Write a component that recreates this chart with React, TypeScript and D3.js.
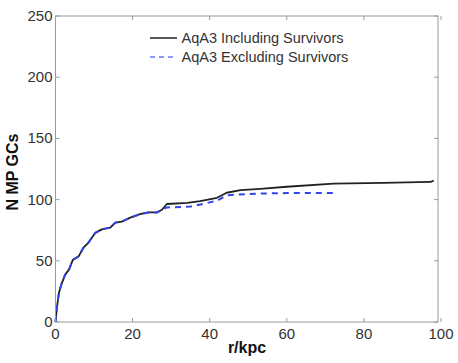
import React from 'react';
import * as d3 from 'd3';

// cumulative counts
const rIncl = [0, 0.4, 0.9, 1.5, 2.5, 3.5, 4.5, 6.0, 7.2, 8.5, 10.3, 12.0, 14.2, 15.5, 17.2, 19.4, 21.9, 24.1, 26.3, 27.6, 28.9, 34.2, 37.5, 41.9, 44.4, 48.0, 53.1, 60, 72.1, 85, 97.3, 98.1];
const nIncl = [0, 12.6, 23.9, 30.5, 38.7, 42.8, 50.8, 53.6, 60.5, 64.7, 72.8, 75.7, 77.1, 81.2, 82.0, 85.3, 88.1, 89.5, 89.5, 91.7, 96.4, 97.3, 98.7, 101.5, 105.6, 107.7, 108.8, 110.5, 113.0, 113.6, 114.4, 115.5];
const rExcl = [0, 0.4, 0.9, 1.5, 2.5, 3.5, 4.5, 6.0, 7.2, 8.5, 10.3, 12.0, 14.2, 15.5, 17.2, 19.4, 21.9, 24.1, 26.3, 27.6, 28.9, 35.0, 41.9, 44.4, 53.1, 60, 73.2];
const nExcl = [0, 12.6, 23.9, 30.5, 38.7, 42.8, 50.8, 53.6, 60.5, 64.7, 72.8, 75.7, 77.1, 81.2, 82.0, 85.3, 88.1, 89.5, 89.5, 91.7, 93.6, 94.3, 99.0, 103.6, 105.0, 105.3, 105.5];

const xTicks = [0, 20, 40, 60, 80, 100];
const yTicks = [0, 50, 100, 150, 200, 250];
const legendLabels = ['AqA3 Including Survivors', 'AqA3 Excluding Survivors'];

const W = 458;
const H = 363;
const left = 55.5;
const right = 438;
const top = 16;
const bottom = 322;

const App = () => {
  const x = d3.scaleLinear().domain([0, 100]).range([left, 441]);
  const y = d3.scaleLinear().domain([0, 250]).range([bottom, top]);

  const line = d3
    .line<[number, number]>()
    .x((d) => x(d[0]))
    .y((d) => y(d[1]));

  const incl = rIncl.map((r, i) => [r, nIncl[i]] as [number, number]);
  const excl = rExcl.map((r, i) => [r, nExcl[i]] as [number, number]);

  const font = 'Liberation Sans, Arial, Helvetica, sans-serif';
  const axisCol = '#9a9a9a';
  const textCol = '#333';
  const blue = '#3344ee';

  return (
    <svg width={W} height={H} style={{ position: 'absolute', left: 0, top: 0, background: '#fff' }} fontFamily={font}>
      <rect x={0} y={0} width={W} height={H} fill="#fff" />
      {/* data */}
      <path d={line(incl) || ''} fill="none" stroke="#222" strokeWidth={1.8} strokeLinejoin="round" />
      <path d={line(excl) || ''} fill="none" stroke={blue} strokeWidth={2} strokeDasharray="6,5" />

      {/* frame */}
      <rect x={left} y={top} width={right - left} height={bottom - top} fill="none" stroke={axisCol} strokeWidth={1} />

      {/* x ticks */}
      {xTicks.map((t) => (
        <g key={'x' + t}>
          <line x1={x(t)} x2={x(t)} y1={bottom} y2={bottom - 4} stroke={axisCol} />
          <line x1={x(t)} x2={x(t)} y1={top} y2={top + 4} stroke={axisCol} />
          <text x={x(t)} y={bottom + 17} fontSize={15} fill={textCol} textAnchor="middle">
            {t}
          </text>
        </g>
      ))}

      {/* y ticks */}
      {yTicks.map((t) => (
        <g key={'y' + t}>
          <line x1={left} x2={left + 4} y1={y(t)} y2={y(t)} stroke={axisCol} />
          <line x1={right} x2={right - 4} y1={y(t)} y2={y(t)} stroke={axisCol} />
          <text x={left - 3} y={y(t) + 5} fontSize={15} fill={textCol} textAnchor="end">
            {t}
          </text>
        </g>
      ))}

      {/* axis labels */}
      <text x={247} y={353} fontSize={16} fontWeight="bold" fill="#111" textAnchor="middle">
        r/kpc
      </text>
      <text
        transform="translate(18,172) rotate(-90)"
        fontSize={16}
        fontWeight="bold"
        fill="#111"
        textAnchor="middle"
      >
        N MP GCs
      </text>

      {/* legend */}
      <line x1={150} x2={177} y1={38} y2={38} stroke="#222" strokeWidth={1.5} />
      <text x={181.5} y={43} fontSize={14.5} fill={textCol}>
        {legendLabels[0]}
      </text>
      <line x1={150} x2={177} y1={57} y2={57} stroke="#6c78f5" strokeWidth={1.5} strokeDasharray="5,4" />
      <text x={181.5} y={62} fontSize={14.5} fill={textCol}>
        {legendLabels[1]}
      </text>
    </svg>
  );
};

export default App;
